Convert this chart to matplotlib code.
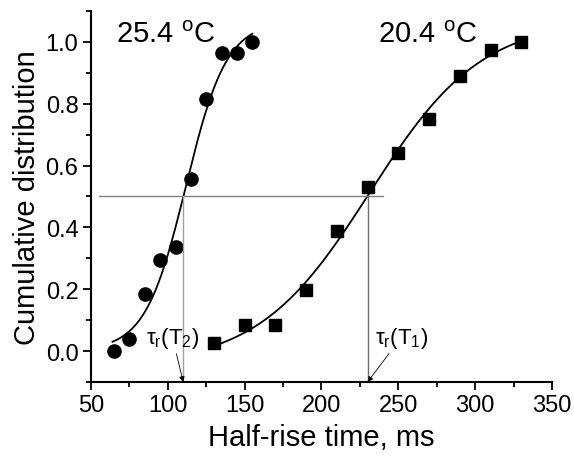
import matplotlib
matplotlib.use("Agg")
import matplotlib.pyplot as plt
import numpy as np
from matplotlib.ticker import MultipleLocator

plt.rcParams["font.family"] = ["Liberation Sans", "DejaVu Sans"]
plt.rcParams["mathtext.fontset"] = "custom"
plt.rcParams["mathtext.rm"] = "Liberation Sans"
plt.rcParams["mathtext.it"] = "Liberation Sans:italic"

# Data
t_hot = [65, 75, 85, 95, 105, 115, 125, 135, 145, 155]          # 25.4 C
cdf_hot = [0.0, 0.04, 0.185, 0.295, 0.335, 0.555, 0.815, 0.965, 0.965, 1.0]
t_cold = [130, 150, 170, 190, 210, 230, 250, 270, 290, 310, 330]  # 20.4 C
cdf_cold = [0.026, 0.084, 0.084, 0.197, 0.388, 0.53, 0.64, 0.752, 0.89, 0.974, 1.0]

tau_hot = 110   # tau_r(T2)
tau_cold = 230  # tau_r(T1)


def boltzmann_fit(x, y):
    # grid over x0, dx; A1/A2 solved linearly
    x = np.asarray(x, float)
    y = np.asarray(y, float)
    best = None
    for x0 in np.linspace(x.min(), x.max(), 301):
        for dx in np.linspace(3, 80, 309):
            s = 1.0 / (1.0 + np.exp(-(x - x0) / dx))
            M = np.column_stack([np.ones_like(s), s])
            coef, *_ = np.linalg.lstsq(M, y, rcond=None)
            r = np.sum((M @ coef - y) ** 2)
            if best is None or r < best[0]:
                best = (r, x0, dx, coef)
    _, x0, dx, (a1, amp) = best
    return lambda xx: a1 + amp / (1.0 + np.exp(-(xx - x0) / dx))


fig = plt.figure(figsize=(5.74, 4.6), dpi=100)
ax = fig.add_axes([0.1585, 0.1674, 0.8032, 0.8066])

f_hot = boltzmann_fit(t_hot, cdf_hot)
f_cold = boltzmann_fit(t_cold, cdf_cold)
xh = np.linspace(64, 155, 200)
xc = np.linspace(132, 330, 300)
ax.plot(xh, f_hot(xh), color="black", lw=1.3)
ax.plot(xc, f_cold(xc), color="black", lw=1.3)

ax.plot(t_hot, cdf_hot, "o", color="black", ms=9.5)
ax.plot(t_cold, cdf_cold, "s", color="black", ms=8)

# guide lines
ax.plot([55, 240], [0.5, 0.5], color="#808080", lw=1)
ax.plot([tau_hot, tau_hot], [0.5, -0.1], color="#a0a0a0", lw=1)
ax.plot([tau_cold, tau_cold], [0.5, -0.1], color="#707070", lw=1)

arrow = dict(arrowstyle="-|>", color="black", lw=0.6, mutation_scale=8,
             shrinkA=1, shrinkB=0)
ax.annotate("τ$_\\mathrm{r}$(T$_2$)", xy=(tau_hot, -0.1), xytext=(103, 0.045),
            ha="center", va="center", fontsize=16, arrowprops=arrow)
ax.annotate("τ$_\\mathrm{r}$(T$_1$)", xy=(tau_cold, -0.1), xytext=(252, 0.045),
            ha="center", va="center", fontsize=16, arrowprops=arrow)

ax.text(98.8, 1.0, "25.4 $^\\mathrm{o}$C", fontsize=21, ha="center", va="baseline")
ax.text(269, 1.0, "20.4 $^\\mathrm{o}$C", fontsize=21, ha="center", va="baseline")

ax.set_xlim(50, 350)
ax.set_ylim(-0.1, 1.1)
ax.xaxis.set_major_locator(MultipleLocator(50))
ax.xaxis.set_minor_locator(MultipleLocator(25))
ax.yaxis.set_minor_locator(MultipleLocator(0.1))
ax.set_yticks(np.arange(0, 1.01, 0.2))
ax.tick_params(which="major", length=6, width=1.3, labelsize=17, direction="out", pad=3)
ax.tick_params(which="minor", length=3.5, width=1.3, direction="out")
for side in ["top", "right"]:
    ax.spines[side].set_visible(False)
for side in ["left", "bottom"]:
    ax.spines[side].set_linewidth(1.5)

ax.set_xlabel("Half-rise time, ms", fontsize=21, labelpad=5)
ax.set_ylabel("Cumulative distribution", fontsize=21, labelpad=3)

fig.savefig("out.png", dpi=100)
